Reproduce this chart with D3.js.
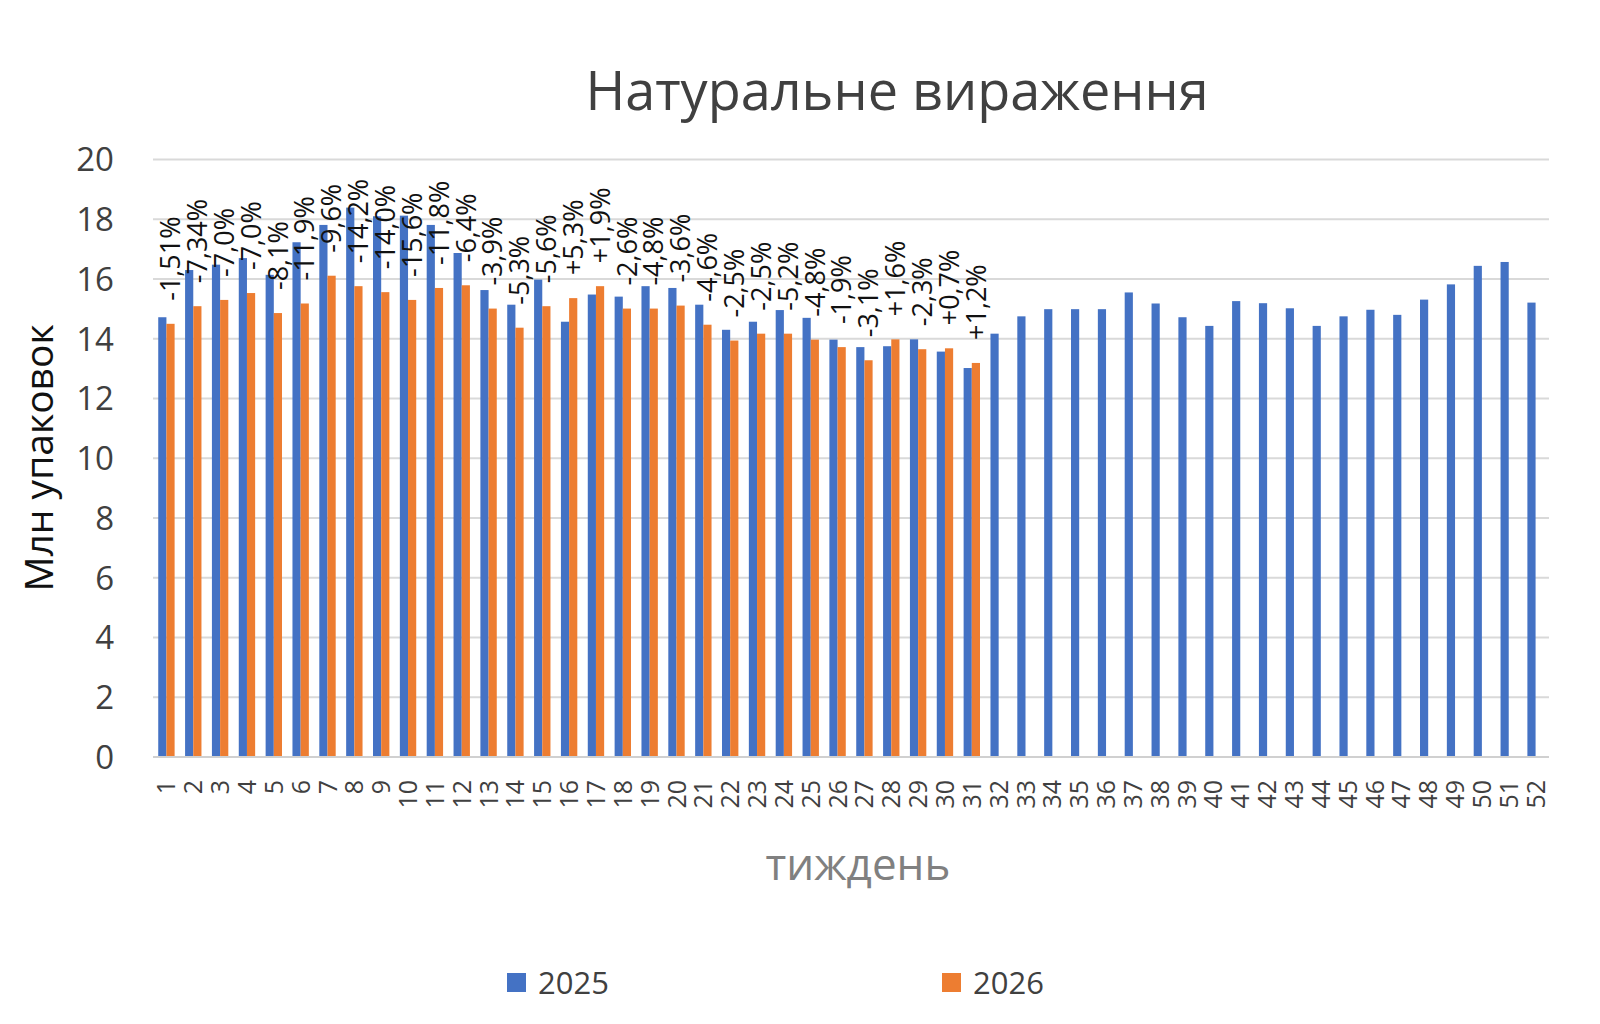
<!DOCTYPE html>
<html>
<head>
<meta charset="utf-8">
<script src="https://cdn.jsdelivr.net/npm/d3@7/dist/d3.min.js"></script>
<style>
  html, body { margin: 0; padding: 0; background: #fff; }
  svg { display: block; font-family: "Open Sans", "Noto Sans", sans-serif; }
</style>
</head>
<body>
<svg id="chart" width="1600" height="1024"></svg>
<script>
const weeks = d3.range(1, 53).map(String);
const values2025 = [14.72, 16.3, 16.48, 16.7, 16.14, 17.23, 17.81, 18.39, 18.1, 18.12,
  17.81, 16.87, 15.63, 15.14, 15.98, 14.57, 15.48, 15.41, 15.76, 15.7,
  15.14, 14.3, 14.57, 14.96, 14.7, 13.97, 13.72, 13.75, 13.98, 13.57,
  13.02, 14.17, 14.75, 14.99, 14.99, 14.99, 15.55, 15.18, 14.72, 14.43,
  15.26, 15.19, 15.02, 14.43, 14.75, 14.97, 14.8, 15.31, 15.82, 16.44,
  16.57, 15.21];
const values2026 = [14.5, 15.09, 15.3, 15.53, 14.86, 15.18, 16.11, 15.76, 15.56, 15.3,
  15.7, 15.79, 15.01, 14.37, 15.09, 15.36, 15.76, 15.01, 15.01, 15.11,
  14.47, 13.94, 14.17, 14.17, 13.97, 13.72, 13.28, 13.98, 13.65, 13.68,
  13.19];
const changeLabels = ["-1,51%", "-7,34%", "-7,0%", "-7,0%", "-8,1%", "-11,9%", "-9,6%", "-14,2%",
  "-14,0%", "-15,6%", "-11,8%", "-6,4%", "-3,9%", "-5,3%", "-5,6%", "+5,3%", "+1,9%",
  "-2,6%", "-4,8%", "-3,6%", "-4,6%", "-2,5%", "-2,5%", "-5,2%", "-4,8%", "-1,9%",
  "-3,1%", "+1,6%", "-2,3%", "+0,7%", "+1,2%"];
const seriesNames = ["2025", "2026"];
const yTicks = [0, 2, 4, 6, 8, 10, 12, 14, 16, 18, 20];
const titleText = "Натуральне вираження";
const yTitle = "Млн упаковок";
const xTitle = "тиждень";

const colors = { "2025": "#4472C4", "2026": "#ED7D31" };

const svg = d3.select("#chart");
const plotL = 153, plotR = 1549, plotT = 159.5, plotB = 757;

const x0 = d3.scaleBand().domain(weeks).range([plotL, plotR]).paddingInner(0.39).paddingOuter(0.195);
const x1 = d3.scaleBand().domain(seriesNames).range([0, x0.bandwidth()]);
const y = d3.scaleLinear().domain([0, 20]).range([plotB, plotT]);

// gridlines
svg.append("g").selectAll("line").data(yTicks.filter(t => t > 0)).join("line")
  .attr("x1", plotL).attr("x2", plotR)
  .attr("y1", d => y(d)).attr("y2", d => y(d))
  .attr("stroke", "#d9d9d9").attr("stroke-width", 2);

// y tick labels
svg.append("g").selectAll("text").data(yTicks).join("text")
  .attr("x", 114).attr("y", d => y(d)).attr("dy", "0.36em")
  .attr("text-anchor", "end").attr("font-size", 33).attr("fill", "#404040")
  .text(d => d);

// bars
const rows = weeks.map((w, i) => ({ week: w, v: [values2025[i], values2026[i]] }));
const gBars = svg.append("g");
seriesNames.forEach((s, si) => {
  gBars.selectAll("rect.s" + s)
    .data(rows.filter(r => r.v[si] != null))
    .join("rect")
    .attr("class", "s" + s)
    .attr("x", d => x0(d.week) + x1(s))
    .attr("width", x1.bandwidth())
    .attr("y", d => y(d.v[si]))
    .attr("height", d => y(0) - y(d.v[si]))
    .attr("fill", colors[s]);
});

// baseline
svg.append("line").attr("x1", plotL).attr("x2", plotR)
  .attr("y1", y(0)).attr("y2", y(0)).attr("stroke", "#d0d0d0").attr("stroke-width", 2);

// data labels (rotated) above 2026 bars
svg.append("g").selectAll("text").data(changeLabels).join("text")
  .attr("transform", (d, i) => {
    const cx = x0(weeks[i]) + x1("2026") + x1.bandwidth() / 2;
    const cy = y(values2026[i]) - 23;
    return `translate(${cx},${cy}) rotate(-90)`;
  })
  .attr("dy", "0.36em")
  .attr("text-anchor", "start").attr("font-size", 27).attr("fill", "#111")
  .text(d => d);

// x tick labels
svg.append("g").selectAll("text").data(weeks).join("text")
  .attr("transform", d => `translate(${x0(d) + x0.bandwidth() / 2},${plotB + 23}) rotate(-90)`)
  .attr("dy", "0.36em")
  .attr("text-anchor", "end").attr("font-size", 25).attr("fill", "#404040")
  .text(d => d);

// title
svg.append("text").attr("x", 897).attr("y", 110).attr("text-anchor", "middle")
  .attr("font-size", 54).attr("fill", "#404040").text(titleText);

// y axis title
svg.append("text").attr("transform", `translate(53,458) rotate(-90)`)
  .attr("text-anchor", "middle").attr("font-size", 39).attr("fill", "#111").text(yTitle);

// x axis title
svg.append("text").attr("x", 858).attr("y", 880).attr("text-anchor", "middle")
  .attr("font-size", 44).attr("fill", "#808080").text(xTitle);

// legend
const legendX = { "2025": 507, "2026": 942 };
const lg = svg.append("g").selectAll("g").data(seriesNames).join("g")
  .attr("transform", d => `translate(${legendX[d]},973)`);
lg.append("rect").attr("width", 19).attr("height", 19).attr("fill", d => colors[d]);
lg.append("text").attr("x", 31).attr("y", 10).attr("dy", "0.36em")
  .attr("font-size", 31).attr("fill", "#404040").text(d => d);
</script>
</body>
</html>
